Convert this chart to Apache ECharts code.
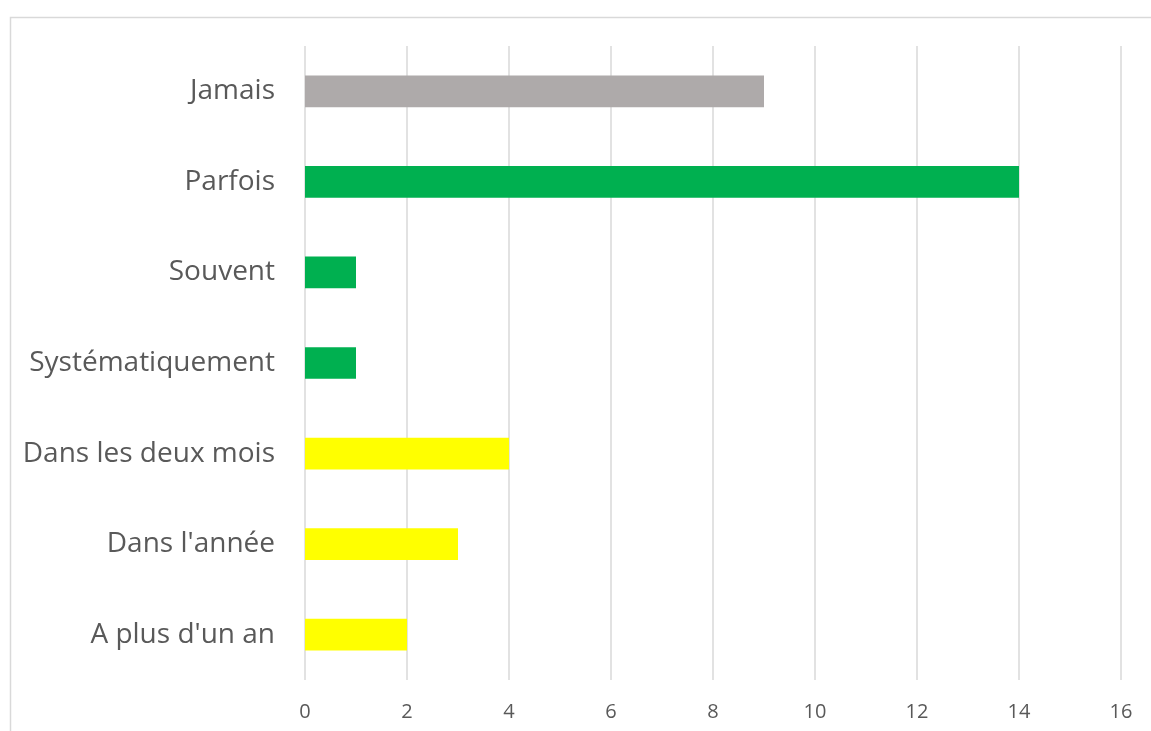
<!DOCTYPE html>
<html>
<head>
<meta charset="utf-8">
<script src="https://cdn.jsdelivr.net/npm/echarts@6/dist/echarts.min.js"></script>
<style>
  html, body { margin: 0; padding: 0; background: #fff; }
  #chart { width: 1151px; height: 731px; }
</style>
</head>
<body>
<div id="chart"></div>
<script>
// categories listed bottom to top (ECharts category y-axis starts at bottom)
const categories = ["A plus d'un an", "Dans l'année", "Dans les deux mois", "Systématiquement", "Souvent", "Parfois", "Jamais"];
const values = [2, 3, 4, 1, 1, 14, 9];
const colors = ['#FFFF00', '#FFFF00', '#FFFF00', '#00B050', '#00B050', '#00B050', '#AEAAAA'];
const xTicks = { min: 0, max: 16, interval: 2 };

const chart = echarts.init(document.getElementById('chart'));

chart.setOption({
  animation: false,
  textStyle: { fontFamily: 'Open Sans' },
  graphic: [{
    type: 'rect',
    shape: { x: 10.5, y: 17.5, width: 1200, height: 800 },
    style: { fill: null, stroke: '#d9d9d9', lineWidth: 1.5 },
    silent: true
  }],
  grid: { left: 305, right: 30, top: 46, bottom: 51, containLabel: false },
  xAxis: {
    type: 'value',
    min: xTicks.min,
    max: xTicks.max,
    interval: xTicks.interval,
    axisLine: { show: false },
    axisTick: { show: false },
    axisLabel: { color: '#595959', fontSize: 20, margin: 22 },
    splitLine: { lineStyle: { color: '#d9d9d9', width: 1.5 } }
  },
  yAxis: {
    type: 'category',
    data: categories,
    axisLine: { show: false },
    axisTick: { show: false },
    axisLabel: { color: '#595959', fontSize: 28, margin: 30 }
  },
  series: [{
    type: 'bar',
    data: values.map((v, i) => ({ value: v, itemStyle: { color: colors[i] } })),
    barWidth: '35%'
  }]
});
</script>
</body>
</html>
